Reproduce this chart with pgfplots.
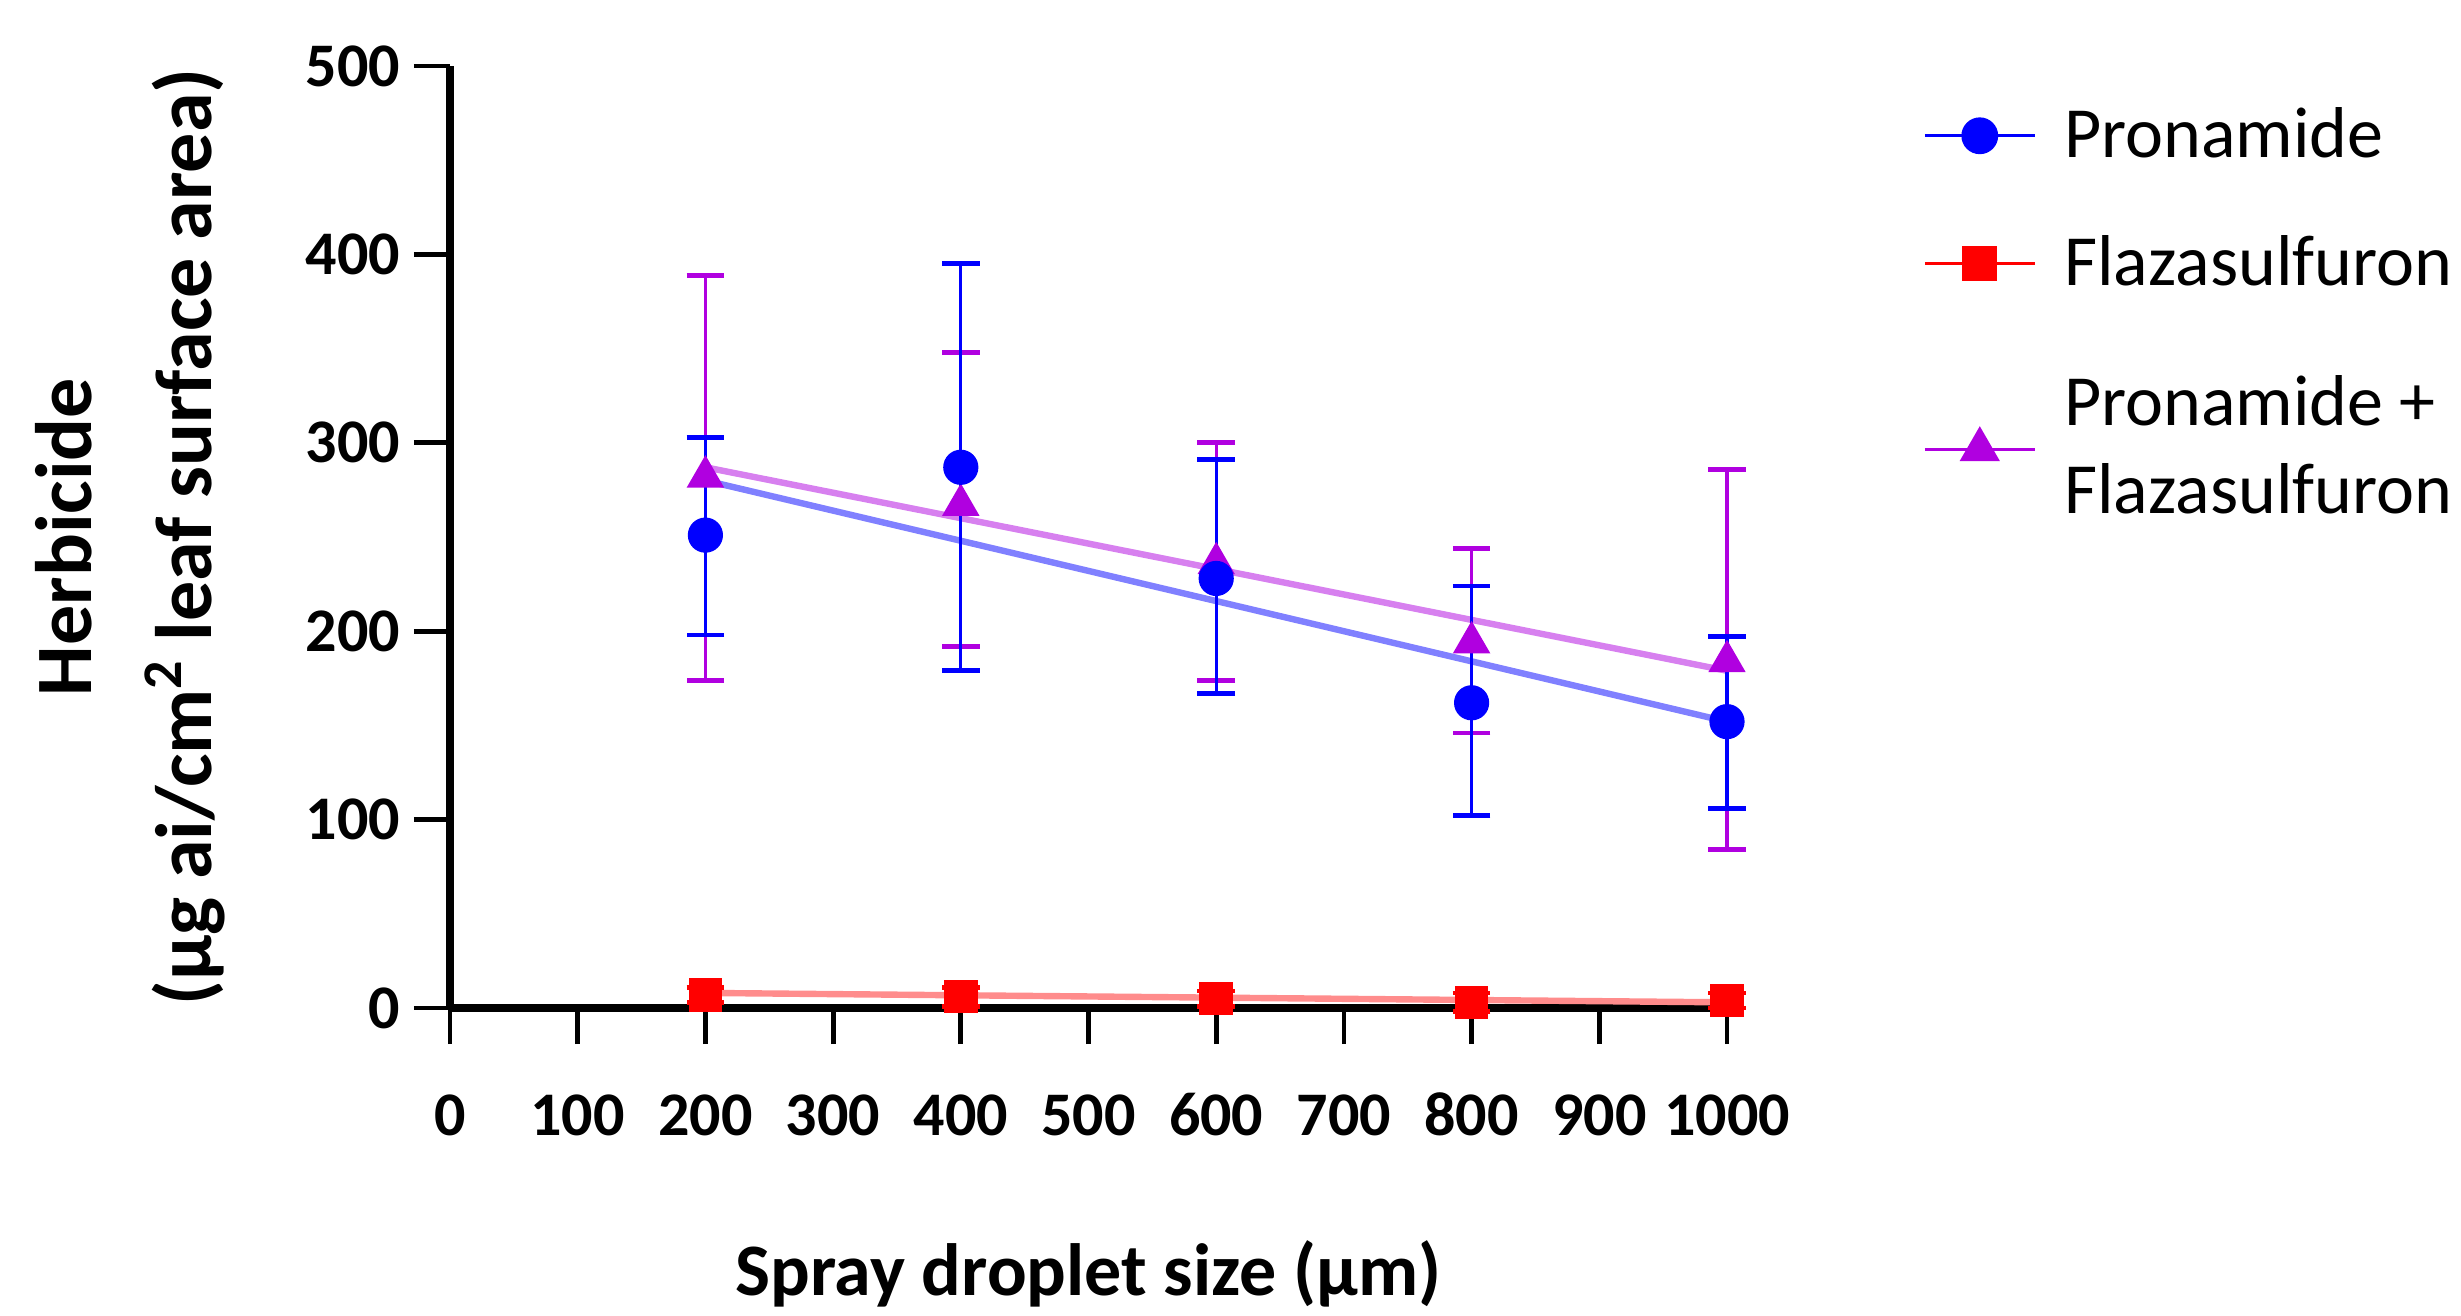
\documentclass[border=0pt]{standalone}
\usepackage{fontspec}
\setmainfont{Carlito}
\usepackage{pgfplots}
\pgfplotsset{compat=1.18}

\definecolor{pblue}{RGB}{0,0,255}
\definecolor{pred}{RGB}{255,0,0}
\definecolor{ppurple}{RGB}{176,0,224}

\pgfplotsset{
  legimg/.style={legend image code/.code={%
    \draw[##1,sharp plot,line width=0.8pt,mark repeat=2,mark phase=2] plot coordinates {(0pt,0pt) (13.75pt,0pt) (27.5pt,0pt)};}},
}

\begin{document}
\begin{tikzpicture}
\begin{axis}[
  scale only axis,
  width=319.25pt, height=235.5pt,
  xmin=0, xmax=1000, ymin=0, ymax=500,
  axis lines*=left,
  axis line style={line width=2.1pt, black},
  xtick={0,100,...,1000}, ytick={0,100,...,500},
  tick align=outside, major tick length=9pt,
  tick style={line width=1.2pt, black},
  tick label style={font=\fontsize{15.5}{18}\selectfont\bfseries},
  xticklabel style={yshift=-8.3pt, text height=11pt, text depth=0pt},
  /pgf/number format/assume math mode=true,
  /pgf/number format/set thousands separator={},
  clip=false,
  xlabel={Spray droplet size (μm)},
  xlabel style={font=\fontsize{18.5}{22}\selectfont\bfseries, at={(axis description cs:0.5,-0.2824)}, anchor=center},
  ylabel={Herbicide\\[6pt](μg ai/cm\textsuperscript{2} leaf surface area)},
  ylabel style={font=\fontsize{20}{24}\selectfont\bfseries, align=center, at={(axis description cs:-0.2503,0.5)}, anchor=center},
  legend style={at={(rel axis cs:1.153,0.965)}, anchor=north west, draw=none, fill=none,
    inner sep=0pt, font=\fontsize{18}{22}\selectfont, row sep=14pt,
    /tikz/every odd column/.append style={column sep=5pt}},
  legend cell align=left,
  legimg,
]
\coordinate (O) at (rel axis cs:0,0);

% fitted lines
\addplot[forget plot, pblue!50, line width=1.6pt] coordinates {(200,280) (1000,152)};
\addplot[forget plot, ppurple!50, line width=1.6pt] coordinates {(200,287) (1000,179)};
\addplot[forget plot, pred!45, line width=1.6pt] coordinates {(200,8) (1000,3)};

% Pronamide + Flazasulfuron (drawn first, under the blue series)
\addplot[forget plot, only marks, ppurple, mark=triangle*, mark size=5pt,
  error bars/.cd, y dir=both, y explicit,
  error bar style={line width=0.8pt, ppurple},
  error mark options={rotate=90, mark size=4.7pt, line width=1.2pt, ppurple}]
  coordinates {
  (200,282) += (0,107) -= (0,108)
  (400,267) += (0,81) -= (0,75)
  (600,236) += (0,64) -= (0,62)
  (800,194) += (0,50) -= (0,48)
  (1000,184) += (0,102) -= (0,100)
};

% Pronamide
\addplot[only marks, pblue, mark=*, mark size=4.2pt,
  error bars/.cd, y dir=both, y explicit,
  error bar style={line width=0.8pt, pblue},
  error mark options={rotate=90, mark size=4.7pt, line width=1.2pt, pblue}]
  coordinates {
  (200,251) += (0,52) -= (0,53)
  (400,287) += (0,108) -= (0,108)
  (600,228) += (0,63) -= (0,61)
  (800,162) += (0,62) -= (0,60)
  (1000,152) += (0,45) -= (0,46)
};
\addlegendentry{Pronamide}

% Flazasulfuron
\addplot[only marks, pred, mark=square*, mark size=4pt,
  error bars/.cd, y dir=both, y explicit,
  error bar style={line width=0.8pt, pred},
  error mark options={rotate=90, mark size=4.7pt, line width=1.2pt, pred}]
  coordinates {
  (200,7) +- (0,4)
  (400,6) +- (0,5)
  (600,5) +- (0,4)
  (800,3) +- (0,5)
  (1000,4) +- (0,4)
};
\addlegendentry{Flazasulfuron}

\addlegendimage{legend image code/.code={%
  \draw[ppurple, line width=0.8pt, mark=triangle*, mark size=5pt, mark repeat=2, mark phase=2]
    plot coordinates {(0pt,-7.5pt) (13.75pt,-7.5pt) (27.5pt,-7.5pt)};}}
\addlegendentry{\begin{tabular}{@{}l@{}}Pronamide +\\Flazasulfuron\end{tabular}}
\end{axis}
\pgfresetboundingbox
\path[use as bounding box] ([shift={(-112.5pt,-77pt)}]O) rectangle ([shift={(502.75pt,252pt)}]O);
\end{tikzpicture}
\end{document}
